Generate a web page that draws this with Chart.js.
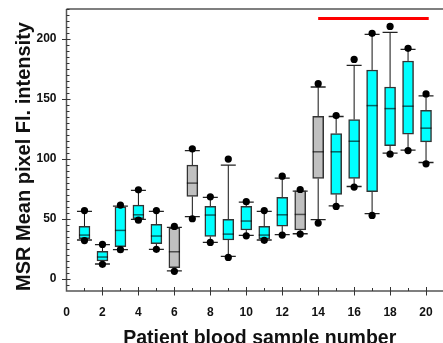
<!DOCTYPE html>
<html>
<head>
<meta charset="utf-8">
<script src="https://cdn.jsdelivr.net/npm/chart.js@4/dist/chart.umd.min.js"></script>
<style>
html, body { margin: 0; padding: 0; background: #fff; overflow: hidden; }
#wrap { width: 443px; height: 343px; overflow: hidden; }
canvas { display: block; }
</style>
</head>
<body>
<div id="wrap"><canvas id="chart" width="457" height="343"></canvas></div>
<script>
// Muestras de sangre por paciente
const samples = [1, 2, 3, 4, 5, 6, 7, 8, 9, 10, 11, 12, 13, 14, 15, 16, 17, 18, 19, 20];
const q1 = [33.6, 15, 26.9, 50.2, 29.4, 9.4, 68.8, 35.5, 32.5, 40.8, 33.3, 44.1, 40.8, 83.8, 70.5, 83.8, 72.7, 111.2, 120.7, 114.3];
const median = [36.6, 18.3, 40.5, 53.5, 35.8, 22.7, 79.9, 53.3, 37.4, 48.3, 36.6, 53.5, 53.8, 106, 106, 114.8, 144.5, 142, 144, 125.7];
const q3 = [43.8, 23, 60.2, 61.6, 45.5, 42.7, 94.9, 60.5, 49.7, 60.5, 43.8, 68, 73.5, 135.6, 121.2, 132.9, 174.2, 160, 181.7, 140.6];
const whiskLow = [32.5, 12.5, 24.4, 49.7, 24.7, 6.7, 51.9, 30.5, 18.9, 36.3, 32.5, 36.9, 37.7, 49.4, 61, 77.1, 54.4, 104.9, 107.4, 97.1];
const whiskHigh = [56.3, 28.6, 60.7, 73.8, 56.3, 43, 107, 68, 94.9, 64.1, 56.3, 84, 73.2, 160, 135.4, 178, 203.9, 205.5, 191.4, 152.6];
const dotLow = [32, 12.2, 24.4, 49, 24.7, 6.4, 50.2, 30.5, 18, 36, 32.2, 36.6, 37.4, 46.6, 60.5, 76.6, 53, 104, 107, 96];
const dotHigh = [57, 28.8, 61.6, 74.3, 57, 43.8, 108.5, 68.5, 99.9, 64.4, 57, 85.7, 74.6, 162.8, 136.2, 183, 204.7, 210.5, 192.2, 154.2];
const greySamples = [6, 7, 13, 14];

// Barra de significancia (roja)
const sigRange = [14, 20.15];
const sigLevel = 217;

// Etiquetas de los ejes
const xTicks = [0, 2, 4, 6, 8, 10, 12, 14, 16, 18, 20];
const yTicks = [0, 50, 100, 150, 200];

const boxPlugin = {
    id: 'boxParts',
    beforeDatasetsDraw(chart) {
        const { ctx, scales: { x, y } } = chart;
        ctx.save();
        samples.forEach((s, i) => {
            const px = x.getPixelForValue(s);
            // bigotes
            ctx.strokeStyle = '#111';
            ctx.lineWidth = 1;
            ctx.beginPath();
            ctx.moveTo(px, y.getPixelForValue(whiskLow[i]));
            ctx.lineTo(px, y.getPixelForValue(q1[i]));
            ctx.moveTo(px, y.getPixelForValue(q3[i]));
            ctx.lineTo(px, y.getPixelForValue(whiskHigh[i]));
            ctx.stroke();
            // topes
            ctx.strokeStyle = '#222';
            ctx.lineWidth = 1.3;
            ctx.beginPath();
            [whiskLow[i], whiskHigh[i]].forEach(v => {
                const py = y.getPixelForValue(v);
                ctx.moveTo(px - 7.5, py);
                ctx.lineTo(px + 7.5, py);
            });
            ctx.stroke();
        });
        ctx.restore();
    },
    afterDatasetDraw(chart, args) {
        if (args.index !== 0) return;
        const { ctx, scales: { y } } = chart;
        const meta = chart.getDatasetMeta(0);
        ctx.save();
        ctx.strokeStyle = 'rgba(0,0,0,0.6)';
        ctx.lineWidth = 1.5;
        meta.data.forEach((bar, i) => {
            const py = y.getPixelForValue(median[i]);
            ctx.beginPath();
            ctx.moveTo(bar.x - bar.width / 2, py);
            ctx.lineTo(bar.x + bar.width / 2, py);
            ctx.stroke();
        });
        ctx.restore();
    },
    afterDraw(chart) {
        const { ctx, chartArea: a, scales: { x, y } } = chart;
        ctx.save();
        // ejes y marco superior
        ctx.strokeStyle = '#555';
        ctx.lineWidth = 1.5;
        ctx.beginPath();
        ctx.moveTo(a.left, a.top);
        ctx.lineTo(a.right, a.top);
        ctx.moveTo(a.left, a.top);
        ctx.lineTo(a.left, a.bottom);
        ctx.lineTo(a.right, a.bottom);
        ctx.stroke();
        // marcas del eje y
        ctx.strokeStyle = '#333';
        ctx.lineWidth = 1;
        ctx.beginPath();
        for (let v = -5; v <= y.max; v += 5) {
            const py = Math.round(y.getPixelForValue(v)) + 0.5;
            if (v % 50 === 0) {
                ctx.moveTo(a.left - 4.5, py);
                ctx.lineTo(a.left + 4, py);
            } else {
                ctx.moveTo(a.left, py);
                ctx.lineTo(a.left + 3, py);
            }
        }
        // marcas del eje x
        for (let v = 1; v <= x.max; v += 1) {
            const px = Math.round(x.getPixelForValue(v)) + 0.5;
            if (v % 2 === 0) {
                ctx.moveTo(px, a.bottom - 4);
                ctx.lineTo(px, a.bottom + 4.5);
            } else {
                ctx.moveTo(px, a.bottom);
                ctx.lineTo(px, a.bottom - 3);
            }
        }
        ctx.stroke();
        ctx.restore();
    }
};

const ctx = document.getElementById('chart').getContext('2d');
const chart = new Chart(ctx, {
    type: 'bar',
    data: {
        datasets: [
            {
                type: 'bar',
                data: samples.map((s, i) => ({ x: s, y: [q1[i], q3[i]] })),
                backgroundColor: samples.map(s => greySamples.includes(s) ? '#c0c0c0' : '#00ffff'),
                borderColor: '#333',
                borderWidth: 1.5,
                borderSkipped: false,
                barThickness: 11,
                grouped: false,
                order: 2
            },
            {
                type: 'scatter',
                data: samples.flatMap((s, i) => [{ x: s, y: dotLow[i] }, { x: s, y: dotHigh[i] }]),
                pointRadius: 3.6,
                pointBackgroundColor: '#000',
                pointBorderWidth: 0,
                order: 1
            },
            {
                type: 'line',
                data: [{ x: sigRange[0], y: sigLevel }, { x: sigRange[1], y: sigLevel }],
                borderColor: '#ff0000',
                borderWidth: 3,
                pointRadius: 0,
                order: 0
            }
        ]
    },
    options: {
        responsive: false,
        animation: false,
        layout: { padding: { top: 9, right: 0.7, bottom: 0, left: 0 } },
        plugins: {
            legend: { display: false },
            tooltip: { enabled: false }
        },
        scales: {
            x: {
                type: 'linear',
                offset: false,
                min: 0,
                max: 21.5,
                grid: { display: false, drawTicks: false, offset: false },
                border: { display: false },
                afterBuildTicks: scale => { scale.ticks = xTicks.map(v => ({ value: v })); },
                afterFit: scale => {
                    scale.height = 52;
                    scale.paddingLeft = 0;
                    scale.paddingRight = 0;
                },
                ticks: {
                    color: '#111',
                    padding: 14,
                    maxRotation: 0,
                    font: { family: 'Liberation Sans, Arial, sans-serif', size: 12, weight: 'bold' }
                },
                title: {
                    display: true,
                    text: 'Patient blood sample number',
                    color: '#111',
                    padding: { top: 0, bottom: -5.5 },
                    font: { family: 'Liberation Sans, Arial, sans-serif', size: 19.5, weight: 'bold', lineHeight: 1 }
                }
            },
            y: {
                min: -10,
                max: 225,
                grid: { display: false, drawTicks: false },
                border: { display: false },
                afterBuildTicks: scale => { scale.ticks = yTicks.map(v => ({ value: v })); },
                afterFit: scale => {
                    scale.width = 66.5;
                    scale.paddingTop = 0;
                    scale.paddingBottom = 0;
                },
                ticks: {
                    color: '#111',
                    padding: 10,
                    font: { family: 'Liberation Sans, Arial, sans-serif', size: 12, weight: 'bold' }
                },
                title: {
                    display: true,
                    text: 'MSR Mean pixel Fl. intensity',
                    color: '#111',
                    align: 'start',
                    padding: { top: 14, bottom: 0 },
                    font: { family: 'Liberation Sans, Arial, sans-serif', size: 20, weight: 'bold', lineHeight: 1 }
                }
            }
        }
    },
    plugins: [boxPlugin]
});
</script>
</body>
</html>
